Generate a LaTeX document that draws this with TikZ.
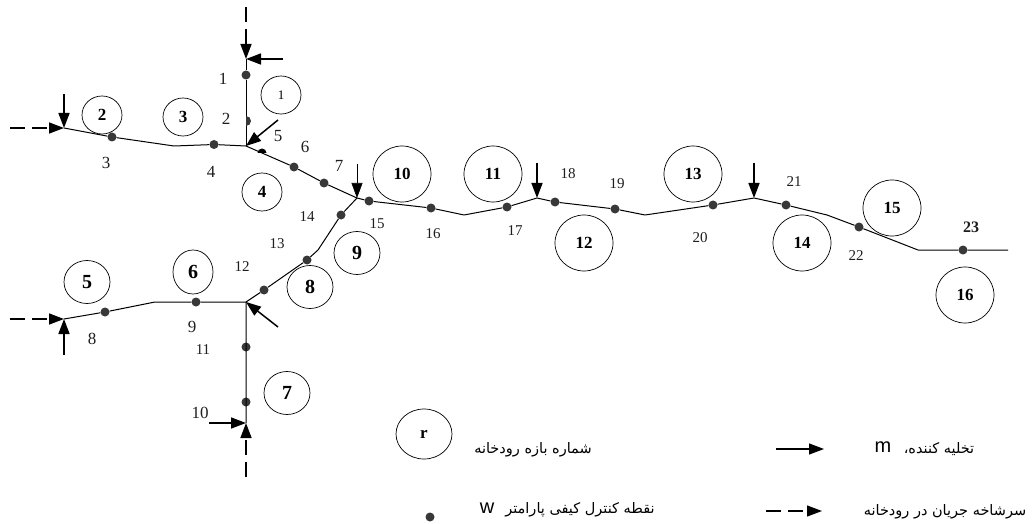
\documentclass[tikz,border=0pt]{standalone}
\usepackage{fontspec}
\usepackage{xcolor}
\usepackage{tikz}
\usetikzlibrary{arrows.meta,shapes.geometric}
\setmainfont{Liberation Serif}
\newfontfamily\arabicfont[Script=Arabic]{DejaVu Sans}
\newfontfamily\latinsans{Liberation Sans}
\TeXXeTstate=1
\definecolor{ink}{HTML}{000000}
\definecolor{dotc}{HTML}{383838}
\definecolor{numc}{HTML}{1E1E1E}
\tikzset{
  river/.style={draw=ink, line width=1pt, line join=round},
  dis/.style={draw=ink, line width=1.5pt, -{Stealth[length=15pt, width=11pt, inset=0pt]}},
  head/.style={dis, dash pattern=on 15pt off 7pt},
  dot/.style={circle, fill=dotc, inner sep=0pt, minimum size=9pt},
  reach/.style={ellipse, draw=ink, line width=0.7pt, inner sep=0pt, text=ink, font=\fontsize{17}{17}\selectfont\bfseries},
  big/.style={reach, minimum width=58pt, minimum height=56pt},
  mid/.style={reach, minimum width=46pt, minimum height=43pt},
  small/.style={reach, minimum width=40pt, minimum height=38pt},
  lab/.style={text=numc, font=\fontsize{17}{17}\selectfont, inner sep=0pt},
  labs/.style={text=numc, font=\fontsize{15}{15}\selectfont, inner sep=0pt},
  fa/.style={text=ink, font=\arabicfont\fontsize{14.5}{14.5}\selectfont, inner sep=0pt},
  lat/.style={inner sep=0pt, font=\latinsans\fontsize{20}{20}\selectfont},
}
\begin{document}
\begin{tikzpicture}[x=1pt, y=-1pt]
\useasboundingbox (0,0) rectangle (1034,524);
% river bends
\coordinate (jn1) at (246,146);
\coordinate (jn2) at (246,302);
\coordinate (jn3) at (357,198);
\coordinate (topr) at (246,59);
\coordinate (botr) at (246,423);
\coordinate (srcA) at (64,128);
\coordinate (srcB) at (64,319);
\coordinate (pk1) at (537,198);
\coordinate (pk2) at (754,198);
\coordinate (endr) at (1008,250);
% control points
\node[dot] (p1) at (246,75) {};
\node[dot] (p3) at (112,137) {};
\node[dot] (p4) at (214,144.5) {};
\node[dot] (p6) at (294,167) {};
\node[dot] (p7) at (324,183) {};
\node[dot] (p8) at (105,312) {};
\node[dot] (p9) at (196,302) {};
\node[dot] (p10) at (246,402) {};
\node[dot] (p11) at (246,347) {};
\node[dot] (p12) at (264,290) {};
\node[dot] (p13) at (307,260) {};
\node[dot] (p14) at (341,215) {};
\node[dot] (p15) at (369,201) {};
\node[dot] (p16) at (431,208) {};
\node[dot] (p17) at (507,207) {};
\node[dot] (p18) at (555,202) {};
\node[dot] (p19) at (615,209) {};
\node[dot] (p20) at (713,205) {};
\node[dot] (p21) at (786,205) {};
\node[dot] (p22) at (859,227) {};
\node[dot] (p23) at (963,250) {};
% reaches
\draw[river] (topr) -- (p1) -- (jn1);
\draw[river] (srcA) -- (p3) -- (174,146) -- (p4) -- (jn1) -- (p6) -- (p7) -- (jn3);
\draw[river] (srcB) -- (p8) -- (155,302) -- (p9) -- (jn2) -- (botr);
\draw[river] (jn2) -- (p12) -- (p13) -- (318,250) -- (p14) -- (jn3);
\draw[river] (jn3) -- (p15) -- (p16) -- (464,215) -- (p17) -- (pk1) -- (p18) -- (p19) -- (645,215) -- (p20) -- (pk2) -- (p21) -- (827,215) -- (p22) -- (918,250) -- (p23) -- (endr);
% half hidden points
\fill[dotc] (246,116) arc[start angle=-90, end angle=90, radius=5] -- cycle;
\fill[ink] (257.5,153) arc[start angle=180, end angle=360, radius=4.5] -- cycle;
% reach numbers
\node[small, font=\fontsize{13}{13}\selectfont] (r1) at (281,95) {1};
\node[small] (r2) at (102,115) {2};
\node[small] (r3) at (183,117) {3};
\node[small] (r4) at (262,192) {4};
\node[mid, font=\fontsize{20}{20}\selectfont\bfseries] (r5) at (87,282) {5};
\node[small, minimum height=44pt, font=\fontsize{20}{20}\selectfont\bfseries] (r6) at (193,272) {6};
\node[mid, font=\fontsize{20}{20}\selectfont\bfseries] (r7) at (287,393) {7};
\node[mid, font=\fontsize{20}{20}\selectfont\bfseries] (r8) at (310,287) {8};
\node[mid, font=\fontsize{20}{20}\selectfont\bfseries] (r9) at (357,253) {9};
\node[big] (r10) at (402,174) {10};
\node[big] (r11) at (493,174) {11};
\node[big] (r12) at (584,243) {12};
\node[big] (r13) at (693,174) {13};
\node[big] (r14) at (802,243) {14};
\node[big] (r15) at (892,208) {15};
\node[big] (r16) at (965,295) {16};
% discharges
\coordinate (t1) at (246,29);
\coordinate (t2) at (283,59);
\coordinate (t3) at (64,94);
\coordinate (t4) at (278,120);
\coordinate (t5) at (278,327);
\coordinate (t6) at (64,355);
\coordinate (t7) at (209,423);
\coordinate (t8) at (357,164);
\coordinate (t9) at (537,163);
\coordinate (t10) at (754,163);
\coordinate (h1) at (246,7);
\coordinate (h2) at (10,128);
\coordinate (h3) at (10,319);
\coordinate (h4) at (246,477);
\draw[head] (h1) -- (topr);
\draw[head] (h2) -- (srcA);
\draw[head] (h3) -- (srcB);
\draw[head] (h4) -- (botr);
\draw[dis] (t2) -- (topr);
\draw[dis] (t3) -- (srcA);
\draw[dis] (t4) -- (jn1);
\draw[dis] (t5) -- (jn2);
\draw[dis] (t6) -- (srcB);
\draw[dis] (t7) -- (botr);
\draw[dis, line width=0.6pt, -{Stealth[length=15pt, width=11pt, inset=0pt]}] (t8) -- (jn3);
\draw[dis] (t9) -- (pk1);
\draw[dis] (t10) -- (pk2);
% point numbers
\node[lab] (n1) at (223,79) {1};
\node[lab] (n2) at (226,119) {2};
\node[lab] (n3) at (106,163) {3};
\node[lab] (n4) at (211,172) {4};
\node[lab] (n5) at (278,136) {5};
\node[lab] (n6) at (305,147) {6};
\node[lab] (n7) at (339,166) {7};
\node[lab] (n8) at (92,339) {8};
\node[lab] (n9) at (192,327) {9};
\node[lab] (n10) at (200,413) {10};
\node[labs] (n11) at (203,350) {11};
\node[labs] (n12) at (242,267) {12};
\node[labs] (n13) at (277,244) {13};
\node[labs] (n14) at (307,217) {14};
\node[labs] (n15) at (377,224) {15};
\node[labs] (n16) at (433,234) {16};
\node[labs] (n17) at (515,231) {17};
\node[labs] (n18) at (568,174) {18};
\node[labs] (n19) at (617,184) {19};
\node[labs] (n20) at (700,238) {20};
\node[labs] (n21) at (794,182) {21};
\node[labs] (n22) at (856,256) {22};
\node[labs, font=\fontsize{16}{16}\selectfont\bfseries] (n23) at (971,227) {23};
% legend
\node[reach, minimum width=56pt, minimum height=50pt] (lr) at (424,434) {r};
\node[fa] (lrt) at (533,450) {\beginR شماره بازه رودخانه\endR};
\coordinate (la) at (776,449);
\coordinate (lb) at (824,449);
\draw[dis, line width=1.2pt] (la) -- (lb);
\node[fa] (lmt) at (939,449) {\beginR تخلیه کننده،\endR};
\node[lat] (lm) at (883,447) {m};
\node[dot] (ld) at (430,517) {};
\node[fa] (ldt) at (580,510) {\beginR نقطه کنترل کیفی پارامتر\endR};
\node[lat] (lw) at (487,508) {w};
\coordinate (lc) at (766,511);
\coordinate (ll) at (822,511);
\draw[head, line width=1.2pt] (lc) -- (ll);
\node[fa] (lct) at (945,512) {\beginR سرشاخه جریان در رودخانه\endR};
\end{tikzpicture}
\end{document}
